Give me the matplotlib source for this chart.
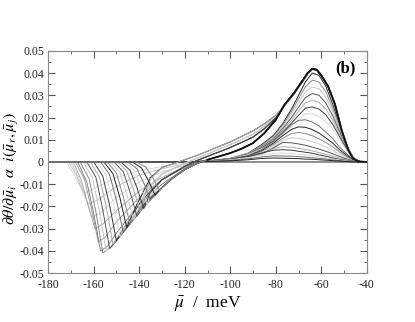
import numpy as np
import matplotlib
matplotlib.use('Agg')
import matplotlib.pyplot as plt

plt.rcParams['font.family'] = 'Liberation Serif'
plt.rcParams['mathtext.fontset'] = 'stix'
plt.rcParams['axes.unicode_minus'] = False

# ---- data ----
# shallow troughs on the far left (negative lobe only)
trough_x = [
    [-180, -172, -169, -166, -164, -160, -150, -140, -130, -120, -115, -40],
    [-180, -171, -167.5, -165, -162.5, -158, -150, -140, -130, -120, -115, -40],
    [-180, -170, -166.5, -163.5, -161, -157, -150, -140, -130, -120, -115, -40],
    [-180, -169, -165.5, -162.5, -159.5, -156, -150, -140, -130, -120, -115, -40],
    [-180, -168, -164, -161, -158, -155, -150, -140, -130, -120, -115, -40],
    [-180, -167, -163, -160, -157, -154, -150, -140, -130, -120, -115, -40],
]
trough_y = [
    [0, 0, -0.005, -0.011, -0.014, -0.012, -0.007, -0.004, -0.002, -0.0005, 0, 0],
    [0, 0, -0.006, -0.013, -0.019, -0.017, -0.011, -0.006, -0.003, -0.001, 0, 0],
    [0, 0, -0.007, -0.016, -0.025, -0.023, -0.016, -0.009, -0.0045, -0.0015, 0, 0],
    [0, 0, -0.008, -0.019, -0.030, -0.028, -0.022, -0.013, -0.007, -0.002, 0, 0],
    [0, 0, -0.008, -0.021, -0.036, -0.034, -0.027, -0.016, -0.008, -0.0025, 0, 0],
    [0, 0, -0.009, -0.023, -0.040, -0.038, -0.032, -0.019, -0.010, -0.003, 0, 0],
]

# full curves: trough part (up to about -135) ...
full_x = [
    [-180, -166, -162, -159, -156, -152, -148, -144, -140, -135],
    [-180, -164.5, -160.5, -157.5, -154.5, -150, -145, -140, -135],
    [-180, -163, -159, -156, -153, -149, -145, -140, -135],
    [-180, -161.5, -157.5, -154.5, -151.5, -147, -142, -137, -135],
    [-180, -160, -156, -153, -150, -145, -140, -135],
    [-180, -158.5, -154.5, -151.5, -148.5, -144, -139, -135],
    [-180, -157, -153, -150, -147, -143, -139, -135],
    [-180, -155.5, -151.5, -148.5, -145.5, -141, -137, -135],
    [-180, -154, -150, -147, -144, -140, -135],
    [-180, -152.5, -148.5, -145.5, -142.5, -139, -135],
    [-180, -151, -147, -144, -141, -138, -135],
    [-180, -149.5, -145.5, -142.5, -139.5, -137, -135],
    [-180, -148, -144, -141, -138, -135],
    [-180, -146.5, -142.5, -139.5, -136.5, -135],
    [-180, -145, -141, -138, -135],
    [-180, -143, -139, -136, -133],
    [-180, -141, -137, -134, -131],
]
full_y = [
    [0, 0, -0.0075, -0.0225, -0.041, -0.038, -0.033, -0.028, -0.023, -0.017],
    [0, 0, -0.0072, -0.022, -0.040, -0.035, -0.028, -0.021, -0.0155],
    [0, 0, -0.007, -0.0215, -0.039, -0.034, -0.029, -0.022, -0.016],
    [0, 0, -0.0067, -0.020, -0.037, -0.030, -0.022, -0.014, -0.011],
    [0, 0, -0.0064, -0.0195, -0.0355, -0.027, -0.019, -0.013],
    [0, 0, -0.006, -0.018, -0.0335, -0.025, -0.016, -0.010],
    [0, 0, -0.0057, -0.0173, -0.0315, -0.026, -0.020, -0.016],
    [0, 0, -0.0053, -0.016, -0.0295, -0.019, -0.011, -0.007],
    [0, 0, -0.005, -0.0155, -0.028, -0.021, -0.0135],
    [0, 0, -0.0047, -0.0143, -0.026, -0.018, -0.0105],
    [0, 0, -0.0044, -0.0135, -0.0245, -0.0195, -0.0165],
    [0, 0, -0.004, -0.0124, -0.0225, -0.013, -0.0075],
    [0, 0, -0.0038, -0.0115, -0.021, -0.0135],
    [0, 0, -0.0034, -0.0105, -0.019, -0.0145],
    [0, 0, -0.003, -0.0095, -0.017],
    [0, 0, -0.0027, -0.0083, -0.015],
    [0, 0, -0.0024, -0.0072, -0.013],
]
full_band = [0, 1, 0, 2, 1, 2, 0, 3, 1, 2, 0, 3, 1, 0, 0, 0, 0]

# ... then one of four paths through the hairy band and the big peak
band_x = [-130, -125, -120, -115, -110, -105, -100, -95, -90, -85, -80, -76, -72,
          -68, -66, -64, -62, -60, -57, -54, -51, -48, -46, -44, -40]
band_a = [-0.0115, -0.007, -0.0035, -0.0008, 0.001, 0.0025, 0.004, 0.006, 0.0085, 0.013,
          0.019, 0.026, 0.031, 0.037, 0.040, 0.042, 0.0415, 0.039, 0.034, 0.026, 0.014,
          0.005, 0.0015, 0.0003, 0]
band_b = [-0.008, -0.005, -0.002, 0.0005, 0.0025, 0.0045, 0.0065, 0.0088, 0.0112, 0.015,
          0.0198, 0.0258, 0.0312, 0.0372, 0.0402, 0.0418, 0.0412, 0.0388, 0.0338, 0.0258,
          0.0142, 0.0052, 0.0016, 0.0003, 0]
band_c = [-0.0055, -0.003, -0.0006, 0.0015, 0.0035, 0.0058, 0.0078, 0.0102, 0.0125, 0.0162,
          0.0205, 0.0262, 0.031, 0.0368, 0.0398, 0.0421, 0.0418, 0.0392, 0.0342, 0.0262,
          0.0146, 0.0055, 0.0017, 0.0003, 0]
band_d = [-0.0025, -0.0008, 0.001, 0.0028, 0.0048, 0.007, 0.009, 0.0115, 0.014, 0.0172,
          0.021, 0.0255, 0.0305, 0.0365, 0.0395, 0.0416, 0.0414, 0.0386, 0.0336, 0.0255,
          0.0138, 0.005, 0.0015, 0.0003, 0]
band_y = [band_a, band_b, band_c, band_d]

# positive humps (right lobe only)
hump_x = [-180, -120, -110, -100, -92, -86, -81, -77, -73, -70, -67, -64, -61, -58,
          -55, -52, -49, -46, -43, -40]
hump_y = [
    [0, 0, 0.0004, 0.0016, 0.004, 0.008, 0.012, 0.0172, 0.024, 0.030, 0.036, 0.040, 0.039, 0.034, 0.026, 0.0168, 0.008, 0.002, 0.0002, 0],
    [0, 0, 0.0004, 0.0016, 0.0039, 0.0076, 0.0115, 0.0165, 0.0228, 0.0284, 0.0338, 0.0368, 0.036, 0.0315, 0.0242, 0.0157, 0.0076, 0.0019, 0.0002, 0],
    [0, 0, 0.0004, 0.0016, 0.0038, 0.0073, 0.011, 0.0158, 0.0215, 0.0266, 0.0315, 0.0337, 0.033, 0.029, 0.0225, 0.0147, 0.0072, 0.0018, 0.0002, 0],
    [0, 0, 0.0004, 0.0015, 0.0037, 0.007, 0.0105, 0.015, 0.0202, 0.0247, 0.029, 0.0308, 0.030, 0.0265, 0.0207, 0.0137, 0.0068, 0.0017, 0.0002, 0],
    [0, 0, 0.0004, 0.0015, 0.0036, 0.0067, 0.0100, 0.0142, 0.0189, 0.0229, 0.0266, 0.0278, 0.0268, 0.0238, 0.0188, 0.0126, 0.0064, 0.0016, 0.0002, 0],
    [0, 0, 0.0004, 0.0015, 0.0035, 0.0064, 0.0095, 0.0134, 0.0176, 0.021, 0.0242, 0.0248, 0.0238, 0.0212, 0.0169, 0.0114, 0.006, 0.0015, 0.0002, 0],
    [0, 0, 0.0003, 0.0014, 0.0034, 0.0061, 0.009, 0.0125, 0.0162, 0.019, 0.0218, 0.0216, 0.0205, 0.0182, 0.0148, 0.0101, 0.0054, 0.0014, 0.0001, 0],
    [0, 0, 0.0003, 0.0012, 0.0029, 0.0057, 0.0093, 0.0130, 0.0168, 0.0187, 0.019, 0.018, 0.0162, 0.0134, 0.0105, 0.0067, 0.0038, 0.001, 0.0001, 0],
    [0, 0, 0.0003, 0.0011, 0.0027, 0.0052, 0.0085, 0.0118, 0.0147, 0.0158, 0.0156, 0.0146, 0.013, 0.0108, 0.0085, 0.0055, 0.0031, 0.0008, 0.0001, 0],
    [0, 0, 0.0003, 0.001, 0.0025, 0.0048, 0.0078, 0.0106, 0.0128, 0.0133, 0.0128, 0.0118, 0.0104, 0.0087, 0.0068, 0.0045, 0.0025, 0.0007, 0.0001, 0],
    [0, 0, 0.0003, 0.0010, 0.0023, 0.0043, 0.0068, 0.0098, 0.0109, 0.0106, 0.0100, 0.0092, 0.0081, 0.0067, 0.0052, 0.0035, 0.0019, 0.0005, 0, 0],
    [0, 0, 0.0003, 0.0009, 0.0021, 0.0038, 0.0063, 0.0088, 0.0086, 0.0081, 0.0075, 0.0067, 0.0058, 0.0048, 0.0037, 0.0025, 0.0014, 0.0004, 0, 0],
    [0, 0, 0.0003, 0.0009, 0.0019, 0.0035, 0.0060, 0.0069, 0.0066, 0.0061, 0.0056, 0.0050, 0.0042, 0.0035, 0.0026, 0.0018, 0.0010, 0.0003, 0, 0],
    [0, 0, 0.0004, 0.0012, 0.0025, 0.0041, 0.0053, 0.0055, 0.0053, 0.0048, 0.0044, 0.0039, 0.0032, 0.0026, 0.0018, 0.0012, 0.0007, 0.0002, 0, 0],
    [0, 0, 0.0003, 0.001, 0.002, 0.0032, 0.0039, 0.0040, 0.0038, 0.0035, 0.0032, 0.0028, 0.0023, 0.0019, 0.0013, 0.0009, 0.0005, 0.0001, 0, 0],
    [0, 0, 0.0002, 0.0007, 0.0014, 0.0023, 0.0028, 0.0027, 0.0026, 0.0024, 0.0022, 0.0019, 0.0016, 0.0013, 0.0009, 0.0006, 0.0003, 0.0001, 0, 0],
    [0, 0, 0.0002, 0.0005, 0.001, 0.0016, 0.0018, 0.0017, 0.0016, 0.0015, 0.0013, 0.0012, 0.001, 0.0008, 0.0006, 0.0004, 0.0002, 0, 0, 0],
]

xticks = [-180, -160, -140, -120, -100, -80, -60, -40]
yticks = [-0.05, -0.04, -0.03, -0.02, -0.01, 0, 0.01, 0.02, 0.03, 0.04, 0.05]
ytick_labels = ['-0.05', '-0.04', '-0.03', '-0.02', '-0.01', '0',
                '0.01', '0.02', '0.03', '0.04', '0.05']

greys = ['#222222', '#8a8a8a', '#c8c8c8', '#555555', '#aaaaaa', '#3a3a3a', '#d8d8d8', '#707070']
light_greys = ['#d0d0d0', '#b8b8b8', '#c8c8c8', '#a0a0a0', '#909090', '#707070']

fig = plt.figure(figsize=(4.15, 3.22), dpi=100)
ax = fig.add_axes([0.116, 0.152, 0.768, 0.690])

for i, (xs, ys) in enumerate(zip(trough_x, trough_y)):
    ax.plot(xs, ys, color=light_greys[i], lw=0.6)

k = 0
for ys in hump_y:
    ax.plot(hump_x, ys, color=greys[k % len(greys)], lw=0.7)
    k += 1

for xs, ys, b in zip(full_x, full_y, full_band):
    ax.plot(xs + band_x, ys + band_y[b], color=greys[k % len(greys)], lw=0.7)
    k += 1

# darkest outer curve over the big peak
ax.plot(band_x[4:], band_a[4:], color='#111111', lw=1.3)

ax.set_xlim(-180, -40)
ax.set_ylim(-0.05, 0.05)
ax.set_xticks(xticks)
ax.set_xticks(range(-170, -40, 20), minor=True)
ax.set_yticks(yticks)
ax.set_yticklabels(ytick_labels)
ax.set_yticks([-0.045, -0.035, -0.025, -0.015, -0.005, 0.005, 0.015, 0.025, 0.035, 0.045], minor=True)
ax.tick_params(which='both', direction='in', top=True, right=True, colors='#555555',
               labelcolor='#222222', labelsize=8.5)
ax.tick_params(axis='y', pad=3)
ax.tick_params(axis='x', pad=4)
ax.tick_params(which='major', length=5)
ax.tick_params(which='minor', length=2.5)
for s in ax.spines.values():
    s.set_color('#888888')

ax.set_xlabel(r'$\bar{\mu}$  /  meV', fontsize=12.5, labelpad=3)
ax.set_ylabel(r'$\partial\theta/\partial\bar{\mu}_i\ \ \alpha\ \ i(\bar{\mu}_r,\bar{\mu}_j)$',
              fontsize=11.5)
ax.yaxis.set_label_coords(-0.086, 0.47)
ax.text(-49.5, 0.042, '(b)', fontsize=12, fontweight='bold', ha='center', va='center')

fig.savefig('out.png', dpi=100)
